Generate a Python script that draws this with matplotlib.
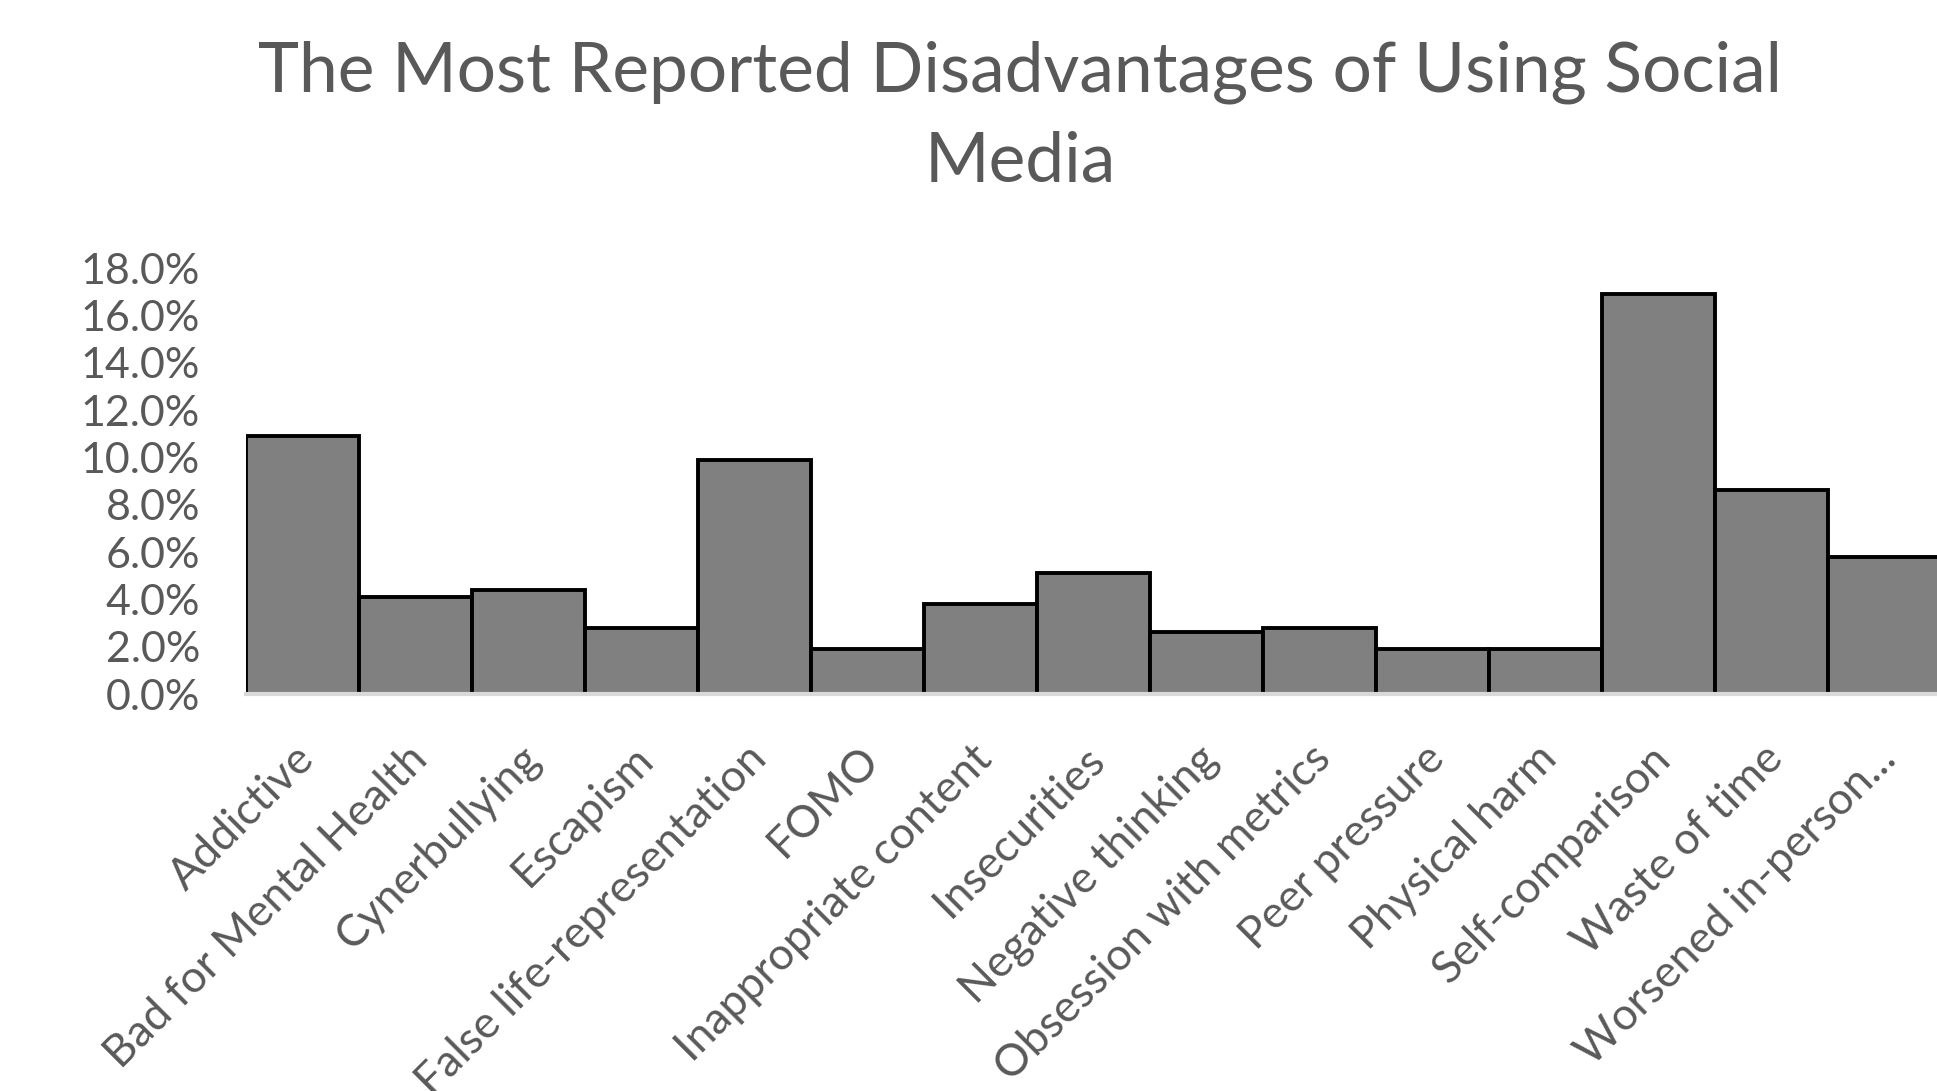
import matplotlib
matplotlib.use("Agg")
import matplotlib.pyplot as plt
import matplotlib.transforms as mtransforms
from matplotlib.ticker import PercentFormatter, MultipleLocator

categories = ["Addictive", "Bad for Mental Health", "Cynerbullying", "Escapism",
              "False life-representation", "FOMO", "Inappropriate content",
              "Insecurities", "Negative thinking", "Obsession with metrics",
              "Peer pressure", "Physical harm", "Self-comparison", "Waste of time",
              "Worsened in-person..."]
values = [10.9, 4.1, 4.4, 2.8, 9.9, 1.9, 3.8, 5.1, 2.6, 2.8, 1.9, 1.9, 16.9, 8.6, 5.8]
title = "The Most Reported Disadvantages of Using Social\nMedia"

plt.rcParams['font.family'] = ['Lato', 'DejaVu Sans']
W, H = 1937, 1091
fig = plt.figure(figsize=(W / 100, H / 100), dpi=100)
x0, x1 = 246 / W, 1941 / W
y0, y1 = (H - 694) / H, (H - 268) / H
ax = fig.add_axes([x0, y0, x1 - x0, y1 - y0])

xs = range(len(categories))
ax.bar(xs, values, width=1.0, color="#808080", edgecolor="black", linewidth=2.8, zorder=2)
ax.set_xlim(-0.5, len(categories) - 0.5)
ax.set_ylim(0, 18)
ax.yaxis.set_major_locator(MultipleLocator(2))
ax.yaxis.set_major_formatter(PercentFormatter(decimals=1))

for s in ["top", "right", "left"]:
    ax.spines[s].set_visible(False)
ax.spines["bottom"].set_color("#d9d9d9")
ax.spines["bottom"].set_linewidth(3)
ax.spines["bottom"].set_zorder(3)

ax.tick_params(axis="both", length=0, labelcolor="#595959")
ax.tick_params(axis="y", labelsize=31, pad=33)
ax.set_xticks(list(xs))
ax.set_xticklabels(categories, rotation=45, ha="right", va="center",
                   rotation_mode="anchor", fontsize=32)
ax.tick_params(axis="x", pad=42)
offset = mtransforms.ScaledTranslation(5 / 100, 0, fig.dpi_scale_trans)
for lbl in ax.get_xticklabels():
    lbl.set_transform(lbl.get_transform() + offset)

fig.text(1020 / W, 1 - 117 / H, title, ha="center", va="center", fontsize=50,
         color="#595959", linespacing=1.5)

fig.savefig("out.png", dpi=100, facecolor="white")
